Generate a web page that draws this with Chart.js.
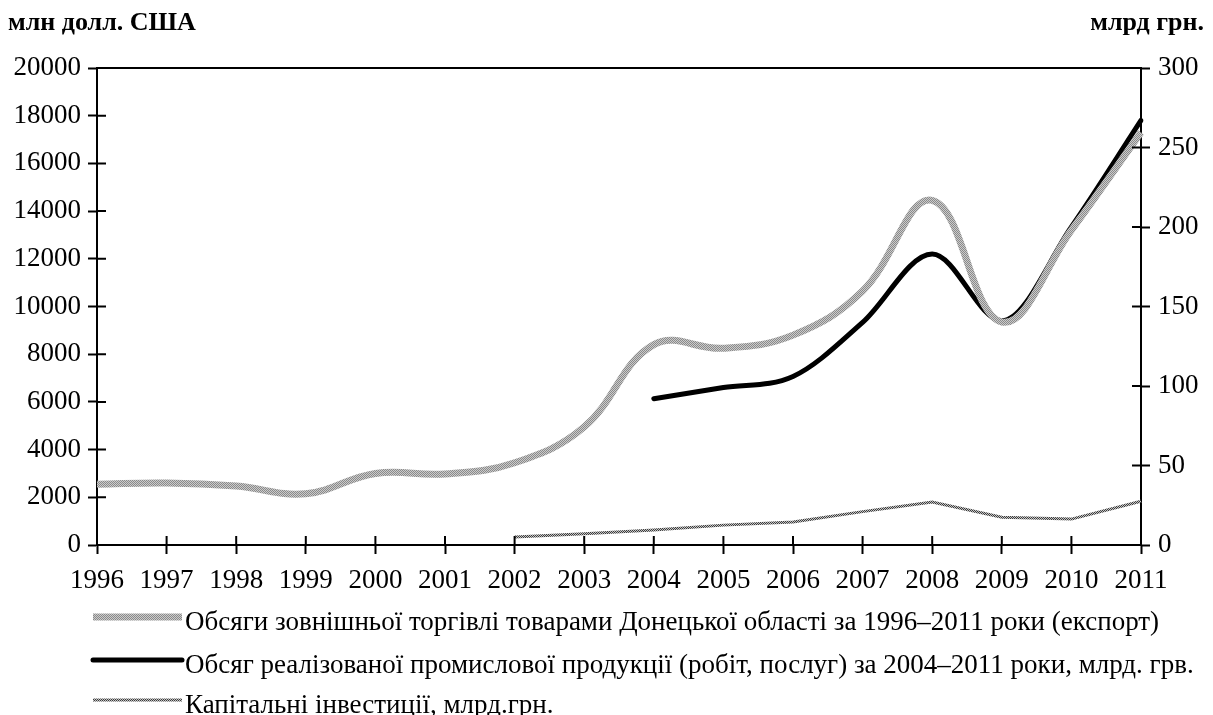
<!DOCTYPE html>
<html>
<head>
<meta charset="utf-8">
<script src="https://cdn.jsdelivr.net/npm/chart.js@4.4.1/dist/chart.umd.min.js"></script>
<style>
  html, body { margin: 0; padding: 0; background: #fff; }
  #wrap { position: relative; width: 1213px; height: 715px; }
</style>
</head>
<body>
<div id="wrap"><canvas id="myChart" width="1213" height="715"></canvas></div>
<script>
// Дані графіка
const years = ['1996', '1997', '1998', '1999', '2000', '2001', '2002', '2003',
               '2004', '2005', '2006', '2007', '2008', '2009', '2010', '2011'];

// Обсяги зовнішньої торгівлі (експорт), млн дол. США - ліва вісь
const exportValues = [2550, 2600, 2470, 2150, 3000, 2980, 3450, 4950,
                      8400, 8250, 8800, 10650, 14450, 9350, 13200, 17300];

// Обсяг реалізованої промислової продукції, млрд грн - права вісь
const industryValues = [null, null, null, null, null, null, null, null,
                        92, 99, 106, 140, 183, 141, 200, 267];

// Капітальні інвестиції, млрд грн - права вісь
const investValues = [null, null, null, null, null, null, 5, 7,
                      9.5, 12.5, 14.5, 21, 27, 17.5, 16.3, 27.5];

const leftTitle = 'млн долл. США';
const rightTitle = 'млрд грн.';
const legendLabels = [
    'Обсяги зовнішньої торгівлі товарами Донецької області за 1996–2011 роки (експорт)',
    'Обсяг реалізованої промислової продукції (робіт, послуг) за 2004–2011 роки, млрд. грв.',
    'Капітальні інвестиції, млрд.грн.'
];

const FONT = "'Liberation Serif', 'Times New Roman', serif";

// текстура для сірих ліній
function makePattern(c1, c2) {
    const p = document.createElement('canvas');
    p.width = 2; p.height = 2;
    const g = p.getContext('2d');
    g.fillStyle = c1; g.fillRect(0, 0, 2, 2);
    g.fillStyle = c2; g.fillRect(0, 0, 1, 1); g.fillRect(1, 1, 1, 1);
    return g.createPattern(p, 'repeat');
}
const grayPattern = makePattern('#cbcbcb', '#8a8a8a');
const thinPattern = makePattern('#c4c4c4', '#3c3c3c');

// підписи осей, внутрішні засічки, рамка зверху і легенда
const extras = {
    id: 'extras',
    afterDraw(chart) {
        const ctx = chart.ctx;
        const a = chart.chartArea;
        ctx.save();

        ctx.fillStyle = '#000';
        ctx.font = 'bold 26px ' + FONT;
        ctx.textBaseline = 'alphabetic';
        ctx.textAlign = 'left';
        ctx.fillText(leftTitle, 8, 30);
        ctx.textAlign = 'right';
        ctx.fillText(rightTitle, 1204, 30);

        ctx.strokeStyle = '#000';
        ctx.lineWidth = 2;
        ctx.beginPath();
        ctx.moveTo(a.left, a.top);
        ctx.lineTo(a.right, a.top);
        const y = chart.scales.y, y1 = chart.scales.y1, x = chart.scales.x;
        y.ticks.forEach((t, i) => {
            const py = y.getPixelForTick(i);
            ctx.moveTo(a.left, py); ctx.lineTo(a.left + 9, py);
        });
        y1.ticks.forEach((t, i) => {
            const py = y1.getPixelForTick(i);
            ctx.moveTo(a.right - 9, py); ctx.lineTo(a.right, py);
        });
        x.ticks.forEach((t, i) => {
            const px = x.getPixelForTick(i);
            ctx.moveTo(px, a.bottom - 9); ctx.lineTo(px, a.bottom);
        });
        ctx.stroke();

        // легенда
        const samples = [617, 660, 700];
        const baselines = [630, 673, 713];
        ctx.font = '27px ' + FONT;
        ctx.textAlign = 'left';
        chart.data.datasets.forEach((ds, i) => {
            const ry = samples[i];
            ctx.strokeStyle = ds.borderColor;
            ctx.lineWidth = ds.borderWidth;
            ctx.lineCap = i === 1 ? 'round' : 'butt';
            ctx.beginPath();
            ctx.moveTo(93, ry);
            ctx.lineTo(182, ry);
            ctx.stroke();
            ctx.fillStyle = '#000';
            ctx.fillText(legendLabels[i], 185, baselines[i]);
        });
        ctx.restore();
    }
};

const ctxLine = document.getElementById('myChart');
const plainNumber = (v) => String(v);

new Chart(ctxLine, {
    type: 'line',
    data: {
        labels: years,
        datasets: [
            {
                label: legendLabels[0],
                data: exportValues,
                yAxisID: 'y',
                borderColor: grayPattern,
                borderWidth: 7,
                tension: 0.4,
                pointRadius: 0,
                fill: false
            },
            {
                label: legendLabels[1],
                data: industryValues,
                yAxisID: 'y1',
                borderColor: '#000',
                borderWidth: 5,
                borderCapStyle: 'round',
                cubicInterpolationMode: 'monotone',
                pointRadius: 0,
                fill: false
            },
            {
                label: legendLabels[2],
                data: investValues,
                yAxisID: 'y1',
                borderColor: thinPattern,
                borderWidth: 3,
                tension: 0,
                pointRadius: 0,
                fill: false
            }
        ]
    },
    options: {
        responsive: false,
        animation: false,
        layout: { padding: { top: 68, left: 0, right: 0, bottom: 0 } },
        plugins: {
            legend: { display: false },
            tooltip: { enabled: false }
        },
        scales: {
            x: {
                offset: false,
                afterFit(scale) { scale.height = 170; },
                border: { color: '#000', width: 2 },
                grid: { drawOnChartArea: false, drawTicks: true, tickLength: 9, tickWidth: 2, tickColor: '#000' },
                ticks: { color: '#000', padding: 11, maxRotation: 0, autoSkip: false,
                         font: { family: FONT, size: 27 } }
            },
            y: {
                position: 'left',
                min: 0,
                max: 20000,
                afterFit(scale) { scale.width = 97; },
                border: { color: '#000', width: 2 },
                grid: { drawOnChartArea: false, tickLength: 9, tickWidth: 2, tickColor: '#000' },
                ticks: { stepSize: 2000, color: '#000', padding: 7, callback: plainNumber,
                         font: { family: FONT, size: 27 } }
            },
            y1: {
                position: 'right',
                min: 0,
                max: 300,
                afterFit(scale) { scale.width = 72; },
                border: { color: '#000', width: 2 },
                grid: { drawOnChartArea: false, tickLength: 9, tickWidth: 2, tickColor: '#000' },
                ticks: { stepSize: 50, color: '#000', padding: 8, callback: plainNumber,
                         font: { family: FONT, size: 27 } }
            }
        }
    },
    plugins: [extras]
});
</script>
</body>
</html>
